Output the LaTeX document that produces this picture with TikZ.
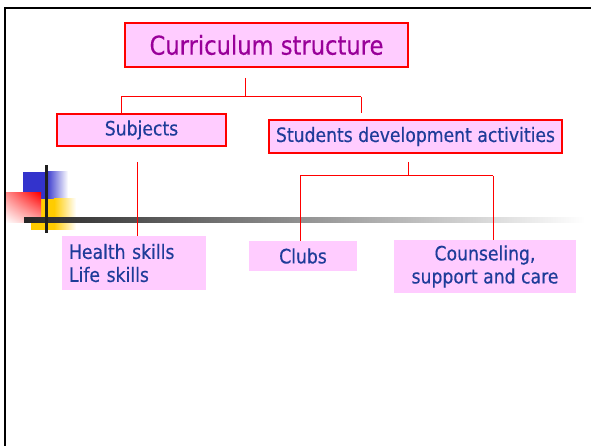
\documentclass[tikz,border=0pt]{standalone}
\usepackage{fontspec}
\setmainfont{DejaVu Sans}[FakeStretch=0.87,FakeBold=0.35]
\usetikzlibrary{calc,shadings}
\definecolor{boxfill}{HTML}{FFCCFF}
\definecolor{titlecol}{HTML}{990099}
\definecolor{txtblue}{HTML}{1E3C99}
\definecolor{decoblue}{HTML}{3333CC}
\definecolor{decoyellow}{HTML}{FFCC00}
\tikzset{
  bx/.style={rectangle, fill=boxfill, inner sep=0pt, text=txtblue, font=\fontsize{19.8}{23}\selectfont},
  bordered/.style={draw=red, line width=1.6pt},
  conn/.style={draw=red, line width=0.9pt},
}
\begin{document}
\begin{tikzpicture}[x=1pt,y=-1pt]
\useasboundingbox (0,0) rectangle (591,446);
\fill[white] (0,0) rectangle (591,446);
% frame
\draw[line width=2.6pt, black] (5,446) -- (5,8) -- (591,8);
% decoration
\fill[decoblue] (23,172) rectangle (46,199);
\shade[left color=decoblue, right color=white] (46,172) rectangle (68,199);
\fill[decoyellow] (31,199) rectangle (54,230);
\shade[left color=decoyellow, right color=white] (54,199) rectangle (76,230);
\shade[upper right=red, upper left=red!45!white, lower right=red!30!white, lower left=white] (6,193) rectangle (41,223);
\shade[left color=black!85, right color=white] (24,218) rectangle (585,223);
\fill[black!88] (45,165) rectangle (48,233);
% nodes
\node[bx, bordered, minimum width=283, minimum height=44, text=titlecol, font=\fontsize{26}{30}\selectfont] (title) at (266.5,45) {Curriculum structure};
\node[bx, bordered, minimum width=169, minimum height=32] (subj) at (141.5,130) {Subjects};
\node[bx, bordered, minimum width=293, minimum height=33] (stud) at (415.5,136.5) {Students development activities};
\node[bx, minimum width=108, minimum height=30] (clubs) at (303,256) {Clubs};
\node[bx, minimum width=182, minimum height=53, align=center] (couns) at (485,266.5) {Counseling,\\support and care};
\node[bx, inner xsep=7pt, text width=130pt, minimum height=54, align=left] (health) at (134,263) {Health skills\\Life skills};
% connectors
\coordinate (j1) at ($(title.south)+(-21.5,29)$);
\draw[conn] ($(title.south)+(-21.5,10)$) -- (j1);
\draw[conn] (121,0 |- j1) -- (361,0 |- j1);
\draw[conn] (121,0 |- j1) -- (121,0 |- subj.north);
\draw[conn] (361,0 |- j1) -- ($(361,0 |- stud.north)+(0,-6)$);
\coordinate (j2) at ($(stud.south)+(-7.5,22)$);
\draw[conn] ($(stud.south)+(-7.5,8)$) -- (j2);
\draw[conn] (300,0 |- j2) -- (493,0 |- j2);
\draw[conn] (300,0 |- j2) -- (300,0 |- clubs.north);
\draw[conn] (493,0 |- j2) -- (493,0 |- couns.north);
\draw[conn, line width=0.7pt] ($(subj.south)+(-4.5,15)$) -- (137,0 |- health.north);
\end{tikzpicture}
\end{document}
